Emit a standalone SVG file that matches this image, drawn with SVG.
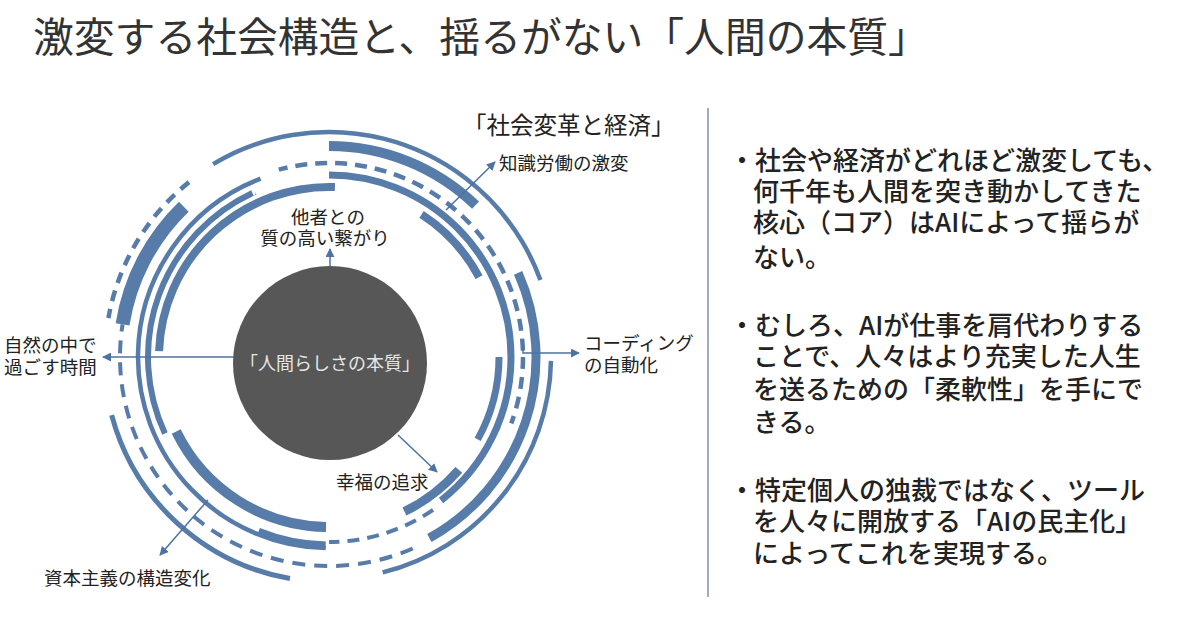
<svg xmlns="http://www.w3.org/2000/svg" width="1190" height="622" viewBox="0 0 1190 622">
<style>
text{font-family:"Noto Sans CJK JP","Noto Sans CJK SC",sans-serif;fill:#222}
.t{font-size:18.5px}
.b{font-size:26px;font-weight:500}
.r{fill:none;stroke:#587ca9}
.a{fill:none;stroke:#4d72a2;stroke-width:1.5}
.mk{fill:none;stroke:#fff;stroke-width:18}
</style>
<defs>
<marker id="ah" viewBox="0 0 10 10" refX="9" refY="5" markerWidth="9" markerHeight="9" markerUnits="userSpaceOnUse" orient="auto"><path d="M0,0 L10,5 L0,10 z" fill="#4d72a2"/></marker>
<mask id="m1" maskUnits="userSpaceOnUse" x="0" y="0" width="1190" height="622"><circle class="mk" cx="329" cy="357" r="194" pathLength="360" stroke-dasharray="125 360" transform="rotate(255 329 357)"/></mask>
<mask id="m2" maskUnits="userSpaceOnUse" x="0" y="0" width="1190" height="622"><circle class="mk" cx="329" cy="357" r="185" pathLength="360" stroke-dasharray="35 360" transform="rotate(55 329 357)"/></mask>
<mask id="m3" maskUnits="userSpaceOnUse" x="0" y="0" width="1190" height="622"><circle class="mk" cx="329" cy="357" r="209" pathLength="360" stroke-dasharray="124 360" transform="rotate(65 329 357)"/></mask>
<mask id="m4" maskUnits="userSpaceOnUse" x="0" y="0" width="1190" height="622"><circle class="mk" cx="329" cy="357" r="224" pathLength="360" stroke-dasharray="42 360" transform="rotate(190 329 357)"/></mask>
</defs>
<rect width="1190" height="622" fill="#fff"/>
<text x="33" y="52" style="font-size:40.8px;fill:#333">激変する社会構造と、揺るがない「人間の本質」</text>

<g id="rings">
<circle class="r" cx="329" cy="357" r="170" stroke-width="8" pathLength="360" stroke-dasharray="90 360" transform="rotate(182 329 357)"/>
<circle class="r" cx="329" cy="357" r="170" stroke-width="8" pathLength="360" stroke-dasharray="29 360" transform="rotate(303 329 357)"/>
<circle class="r" cx="329" cy="357" r="170" stroke-width="7" pathLength="360" stroke-dasharray="29 360" transform="rotate(0 329 357)"/>
<circle class="r" cx="329" cy="357" r="172" stroke-width="9" pathLength="360" stroke-dasharray="23 360" transform="rotate(41 329 357)"/>
<circle class="r" cx="329" cy="357" r="170" stroke-width="10" pathLength="360" stroke-dasharray="63 360" transform="rotate(91 329 357)"/>
<circle class="r" cx="329" cy="357" r="181" stroke-width="6" pathLength="360" stroke-dasharray="90 360" transform="rotate(155 329 357)"/>
<circle class="r" cx="329" cy="357" r="182" stroke-width="7" pathLength="360" stroke-dasharray="142 360" transform="rotate(270 329 357)"/>
<circle class="r" cx="329" cy="357" r="191" stroke-width="4.5" pathLength="360" stroke-dasharray="158 360" transform="rotate(91 329 357)"/>
<circle class="r" cx="329" cy="357" r="188" stroke-width="7" pathLength="360" stroke-dasharray="21 360" transform="rotate(91 329 357)"/>
<circle class="r" cx="329" cy="357" r="194" stroke-width="4.5" stroke-dasharray="12 8" mask="url(#m1)"/>
<circle class="r" cx="329" cy="357" r="185" stroke-width="4" stroke-dasharray="12 8" mask="url(#m2)"/>
<circle class="r" cx="329" cy="357" r="211" stroke-width="10" pathLength="360" stroke-dasharray="44 360" transform="rotate(270 329 357)"/>
<circle class="r" cx="329" cy="357" r="209" stroke-width="14" pathLength="360" stroke-dasharray="37 360" transform="rotate(189 329 357)"/>
<circle class="r" cx="329" cy="357" r="209" stroke-width="4" stroke-dasharray="13 9" mask="url(#m3)"/>
<circle class="r" cx="329" cy="357" r="207" stroke-width="9" pathLength="360" stroke-dasharray="85 360" transform="rotate(336 329 357)"/>
<circle class="r" cx="329" cy="357" r="225" stroke-width="4.5" pathLength="360" stroke-dasharray="101 360" transform="rotate(239 329 357)"/>
<circle class="r" cx="329" cy="357" r="222" stroke-width="4.5" pathLength="360" stroke-dasharray="75 360" transform="rotate(1 329 357)"/>
<circle class="r" cx="329" cy="357" r="224" stroke-width="4.5" stroke-dasharray="11 8" mask="url(#m4)"/>
<circle class="r" cx="329" cy="357" r="225" stroke-width="5" pathLength="360" stroke-dasharray="65 360" transform="rotate(100 329 357)"/>
</g>

<g id="connectors">
<path class="a" d="M234,357 H103" marker-end="url(#ah)"/>
<path class="a" d="M523,340 V353 H579" marker-end="url(#ah)"/>
<path class="a" d="M330,266 V249" marker-end="url(#ah)"/>
<path class="a" d="M446,210 L495,162" marker-end="url(#ah)"/>
<path class="a" d="M398,435 L437,472" marker-end="url(#ah)"/>
<path class="a" d="M208,500 L160,555" marker-end="url(#ah)"/>
</g>

<g id="core">
<circle cx="330" cy="363" r="97" fill="#575757"/>
<text x="330" y="370" text-anchor="middle" style="font-size:18px;fill:#e6e6e6">「人間らしさの本質」</text>
</g>
<g id="n-connection"><text class="t" x="328" y="224" text-anchor="middle">他者との</text><text class="t" x="325" y="245" text-anchor="middle">質の高い繋がり</text></g>
<g id="n-knowledge"><text class="t" x="499" y="170">知識労働の激変</text></g>
<g id="n-society"><text x="463" y="134" style="font-size:23.5px">「社会変革と経済」</text></g>
<g id="n-coding"><text class="t" x="584" y="350">コーディング</text><text class="t" x="584" y="372">の自動化</text></g>
<g id="n-nature"><text class="t" x="4" y="352">自然の中で</text><text class="t" x="4" y="374">過ごす時間</text></g>
<g id="n-happiness"><text class="t" x="336" y="489">幸福の追求</text></g>
<g id="n-capitalism"><text class="t" x="44" y="585">資本主義の構造変化</text></g>

<line x1="708" y1="108" x2="708" y2="597" stroke="#7d90a8" stroke-width="1.5"/>

<g id="points">
<text class="b" x="729" y="170">・社会や経済がどれほど激変しても、</text>
<text class="b" x="753" y="201">何千年も人間を突き動かしてきた</text>
<text class="b" x="753" y="232">核心（コア）はAIによって揺らが</text>
<text class="b" x="753" y="267">ない。</text>
<text class="b" x="729" y="335">・むしろ、AIが仕事を肩代わりする</text>
<text class="b" x="753" y="366">ことで、人々はより充実した人生</text>
<text class="b" x="753" y="399">を送るための「柔軟性」を手にで</text>
<text class="b" x="753" y="432">きる。</text>
<text class="b" x="729" y="500">・特定個人の独裁ではなく、ツール</text>
<text class="b" x="753" y="531">を人々に開放する「AIの民主化」</text>
<text class="b" x="753" y="563">によってこれを実現する。</text>
</g>
</svg>
